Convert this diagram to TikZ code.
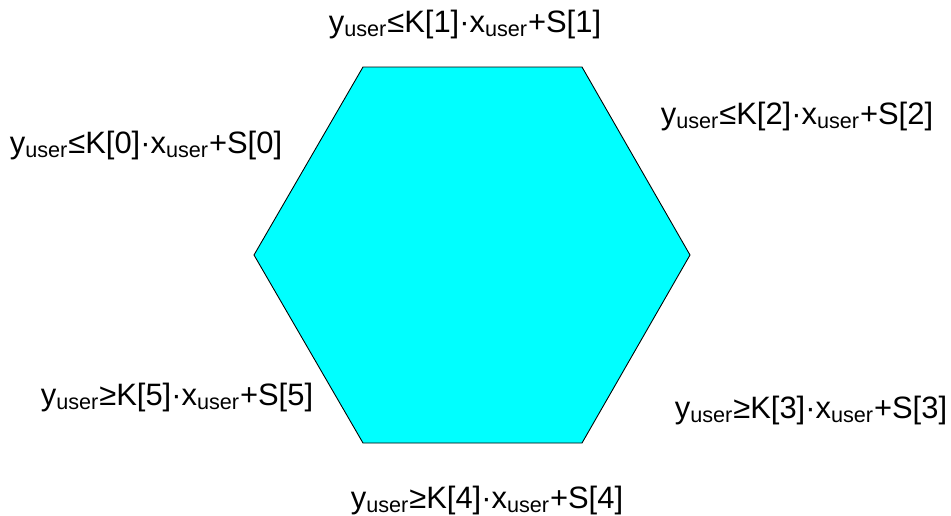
\documentclass[tikz,border=0pt]{standalone}
\usepackage{fontspec}
\setmainfont{Liberation Sans}
\usepackage{tikz}
\usetikzlibrary{positioning}
\definecolor{hexcyan}{RGB}{0,255,255}
\newcommand{\usr}{\textsubscript{user}}
\newcommand{\cond}[3]{y\usr#1K[#2]\textperiodcentered x\usr+S[#3]}

\begin{document}
\begin{tikzpicture}[
  x=0.02cm, y=-0.02cm,
  lbl/.style={inner sep=0pt, anchor=base, font=\fontsize{17.6}{21}\selectfont},
  hex/.style={draw=black, fill=hexcyan, line width=0.5pt, line join=miter}]
  \useasboundingbox (0,0) rectangle (951,515);
  % corners of the hexagon
  \coordinate (c0) at (254,255);
  \coordinate (c1) at (363,67);
  \coordinate (c2) at (582,67);
  \coordinate (c3) at (690,255);
  \coordinate (c4) at (582,443);
  \coordinate (c5) at (363,443);
  \draw[hex] (c0) -- (c1) -- (c2) -- (c3) -- (c4) -- (c5) -- cycle;
  % edge conditions
  \node[lbl] (k1) at (465,32) {\cond{≤}{1}{1}};
  \node[lbl] (k0) at (146,153) {\cond{≤}{0}{0}};
  \node[lbl] (k2) at (797,124) {\cond{≤}{2}{2}};
  \node[lbl] (k5) at (177,405) {\cond{≥}{5}{5}};
  \node[lbl] (k3) at (811,418) {\cond{≥}{3}{3}};
  \node[lbl] (k4) at (487,508) {\cond{≥}{4}{4}};
\end{tikzpicture}
\end{document}
